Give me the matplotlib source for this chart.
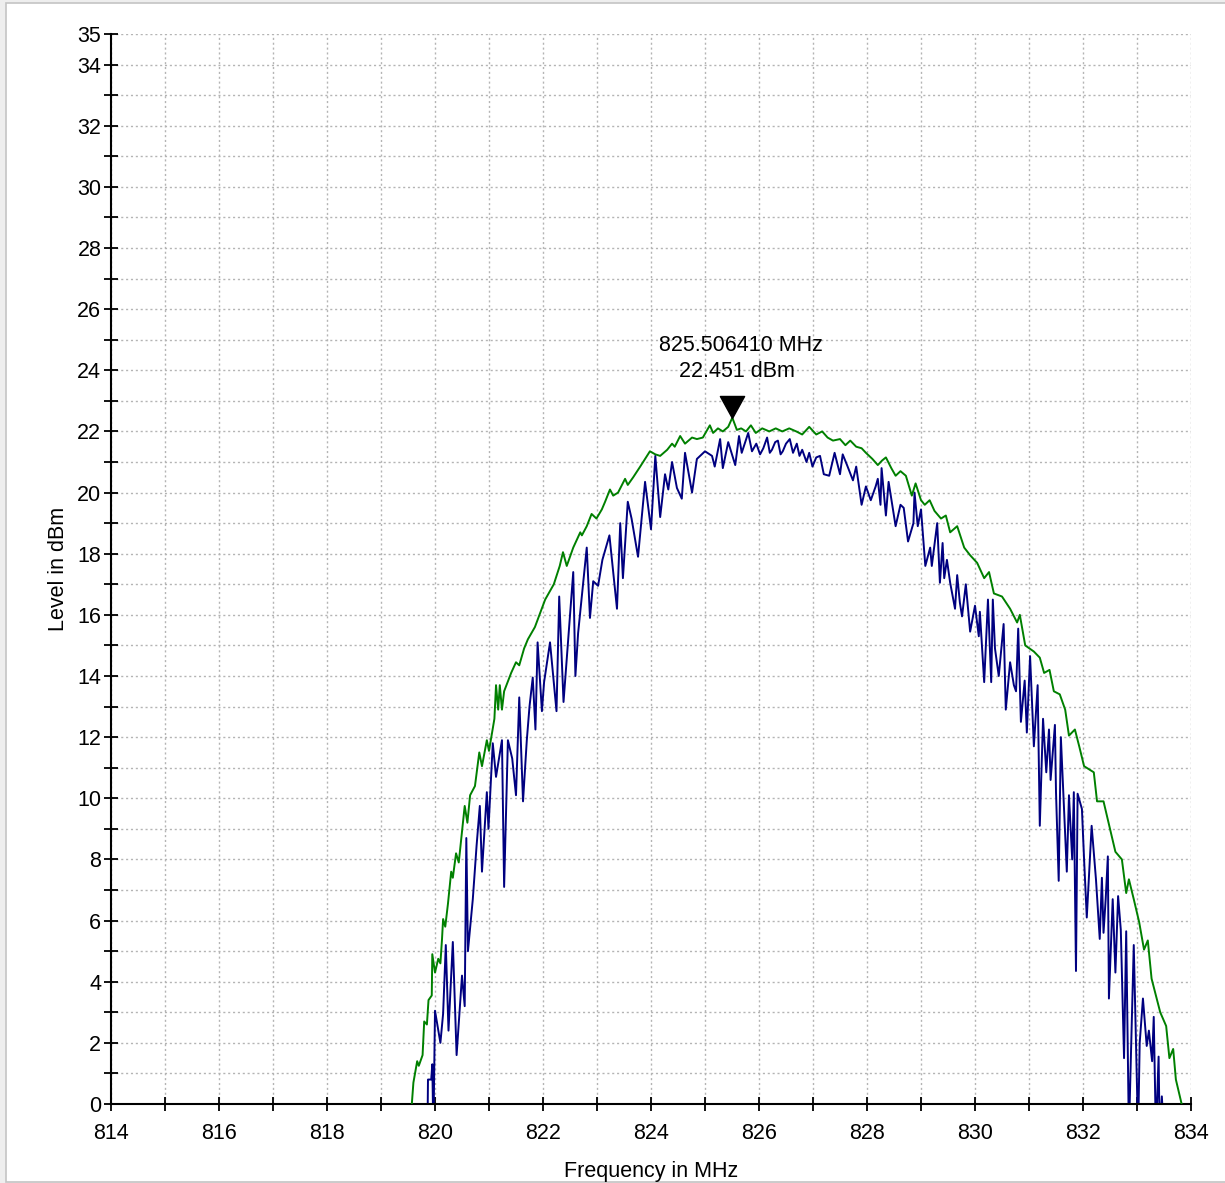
import numpy as np
import matplotlib
matplotlib.use("Agg")
import matplotlib.pyplot as plt
from matplotlib.patches import Rectangle

plt.rcParams['font.family'] = ['Liberation Sans', 'DejaVu Sans']

# Max-hold trace (green)
green_freq = [
    819.55, 819.60, 819.67, 819.70, 819.77, 819.80, 819.85, 819.88, 819.94, 819.95,
    820.00, 820.06, 820.10, 820.13, 820.15, 820.19, 820.24, 820.30, 820.33, 820.39,
    820.44, 820.55, 820.60, 820.65, 820.74, 820.82, 820.87, 820.96, 821.00, 821.10,
    821.13, 821.17, 821.20, 821.24, 821.28, 821.41, 821.50, 821.56, 821.65, 821.72,
    821.85, 822.04, 822.20, 822.31, 822.37, 822.44, 822.56, 822.69, 822.72, 822.81,
    822.90, 822.99, 823.09, 823.15, 823.24, 823.30, 823.39, 823.52, 823.57, 823.67,
    823.80, 823.89, 823.98, 824.08, 824.17, 824.30, 824.39, 824.44, 824.54, 824.63,
    824.76, 824.85, 824.96, 825.09, 825.15, 825.24, 825.33, 825.43, 825.506, 825.59,
    825.67, 825.76, 825.85, 825.94, 826.06, 826.19, 826.31, 826.43, 826.56, 826.69,
    826.80, 826.93, 827.06, 827.17, 827.27, 827.37, 827.50, 827.60, 827.69, 827.80,
    827.90, 827.98, 828.10, 828.20, 828.28, 828.35, 828.45, 828.53, 828.62, 828.72,
    828.83, 828.90, 829.00, 829.07, 829.16, 829.25, 829.37, 829.46, 829.54,
    829.67, 829.80, 829.91, 830.04, 830.17, 830.26, 830.35, 830.50, 830.65, 830.78,
    830.83, 830.93, 831.09, 831.20, 831.28, 831.38, 831.46, 831.57, 831.67, 831.74,
    831.85, 831.93, 832.02, 832.20, 832.26, 832.38, 832.50, 832.60, 832.72, 832.80,
    832.85, 832.94, 833.04, 833.13, 833.20, 833.27, 833.43, 833.54, 833.60, 833.67,
    833.72, 833.82, 833.90,
]
green_level = [
    -0.5, 0.7, 1.4, 1.25, 1.6, 2.7, 2.6, 3.4, 3.55, 4.9,
    4.3, 4.75, 4.6, 5.4, 6.05, 5.8, 6.55, 7.6, 7.4, 8.2,
    7.9, 9.75, 9.2, 10.1, 10.4, 11.5, 11.05, 11.9, 11.55, 12.6,
    13.7, 12.9, 13.7, 12.9, 13.5, 14.1, 14.45, 14.35, 14.9, 15.2,
    15.6, 16.5, 17.0, 17.6, 18.05, 17.6, 18.2, 18.7, 18.6, 18.9,
    19.3, 19.15, 19.45, 19.7, 20.1, 19.9, 20.0, 20.45, 20.25, 20.5,
    20.85, 21.1, 21.35, 21.25, 21.2, 21.4, 21.6, 21.5, 21.85, 21.6,
    21.8, 21.75, 21.8, 22.2, 21.95, 22.1, 22.0, 22.15, 22.451, 22.05,
    22.1, 22.0, 22.2, 21.95, 22.1, 22.0, 22.1, 22.0, 22.1, 22.0,
    21.9, 22.15, 21.9, 22.0, 21.8, 21.7, 21.75, 21.55, 21.7, 21.5,
    21.45, 21.3, 21.1, 20.9, 21.05, 21.15, 20.8, 20.55, 20.7, 20.55,
    19.9, 20.3, 19.75, 19.6, 19.75, 19.4, 19.15, 19.25, 18.7,
    18.9, 18.2, 17.95, 17.7, 17.2, 17.4, 16.7, 16.6, 16.2, 15.75,
    16.0, 15.0, 14.8, 14.6, 14.1, 14.2, 13.5, 13.4, 12.9, 12.05,
    12.25, 11.7, 11.05, 10.85, 9.9, 9.9, 9.0, 8.25, 8.0, 6.9,
    7.35, 6.7, 5.95, 5.05, 5.35, 4.1, 3.0, 2.55, 1.5, 1.8,
    0.8, 0.05, -0.5,
]

# Clear/write trace (blue)
blue_freq = [
    819.86, 819.87, 819.93, 819.95, 819.97, 820.00, 820.10, 820.15, 820.20, 820.25,
    820.33, 820.40, 820.50, 820.55, 820.58, 820.61, 820.70, 820.77, 820.83, 820.87,
    820.96, 820.99, 821.07, 821.13, 821.24, 821.28, 821.35, 821.43, 821.50, 821.56,
    821.63, 821.70, 821.75, 821.81, 821.86, 821.90, 821.98, 822.02, 822.13, 822.25,
    822.30, 822.38, 822.56, 822.60, 822.65, 822.81, 822.87, 822.93, 823.02, 823.10,
    823.23, 823.37, 823.43, 823.48, 823.57, 823.64, 823.76, 823.89, 824.00, 824.08,
    824.17, 824.26, 824.32, 824.39, 824.48, 824.57, 824.63, 824.76, 824.85, 824.94,
    825.00, 825.13, 825.18, 825.28, 825.33, 825.43, 825.56, 825.63, 825.68, 825.80,
    825.87, 825.95, 826.02, 826.08, 826.15, 826.20, 826.24, 826.30, 826.35, 826.40,
    826.44, 826.50, 826.57, 826.63, 826.70, 826.75, 826.80, 826.88, 826.93, 826.99,
    827.06, 827.13, 827.20, 827.30, 827.40, 827.50, 827.55, 827.63, 827.74, 827.80,
    827.90, 827.98,
    828.07, 828.16, 828.20, 828.25, 828.27, 828.35, 828.40, 828.53, 828.62, 828.68,
    828.76, 828.86, 828.88, 828.94, 829.00, 829.08, 829.17, 829.20, 829.30, 829.35,
    829.40, 829.43, 829.48, 829.54, 829.63, 829.67, 829.72, 829.76, 829.83, 829.91,
    830.00, 830.07, 830.09, 830.17, 830.24, 830.30, 830.33, 830.37, 830.44, 830.53,
    830.57, 830.65, 830.72, 830.76, 830.80, 830.85, 830.92, 830.96, 831.02, 831.09,
    831.16, 831.20, 831.26, 831.32, 831.37, 831.40, 831.48, 831.50, 831.55, 831.59,
    831.70, 831.74, 831.80, 831.83, 831.87, 831.90, 831.98, 832.02, 832.07, 832.16,
    832.24, 832.31, 832.35, 832.38, 832.42, 832.46, 832.48, 832.55, 832.60, 832.65,
    832.70, 832.76, 832.80, 832.85, 832.94, 833.02, 833.05, 833.11, 833.18, 833.22,
    833.28, 833.31, 833.35, 833.40, 833.42, 833.46, 833.50,
]
blue_level = [
    -1.0, 0.8, 0.8, 1.3, -1.0, 3.05, 2.0, 2.95, 5.2, 2.4,
    5.3, 1.6, 4.2, 3.2, 8.7, 5.0, 6.7, 8.45, 9.75, 7.6,
    10.2, 9.0, 11.8, 10.7, 11.9, 7.1, 11.9, 11.3, 10.1, 13.3,
    9.9, 11.9, 13.0, 13.95, 12.25, 15.1, 12.85, 13.8, 15.1, 12.85,
    16.6, 13.15, 17.4, 14.0, 15.4, 18.2, 15.9, 17.1, 16.95, 17.8,
    18.6, 16.2, 19.0, 17.2, 19.7, 19.15, 17.9, 20.35, 18.8, 21.2,
    19.2, 20.6, 20.1, 21.0, 20.15, 19.8, 21.3, 20.0, 21.1, 21.25,
    21.35, 21.2, 20.85, 21.75, 20.8, 21.65, 20.9, 21.85, 21.3, 21.95,
    21.35, 21.6, 21.25, 21.45, 21.8, 21.3, 21.4, 21.65, 21.7, 21.25,
    21.35, 21.6, 21.75, 21.3, 21.6, 21.2, 21.4, 21.0, 21.3, 20.85,
    21.15, 21.2, 20.6, 20.55, 21.3, 20.6, 21.25, 20.9, 20.4, 20.85,
    19.6, 20.2,
    19.75, 20.2, 20.45, 19.6, 20.8, 19.25, 20.35, 18.9, 19.6, 19.5,
    18.4, 19.0, 20.0, 18.9, 19.45, 17.6, 18.2, 17.6, 19.0, 17.05,
    18.35, 17.2, 17.8, 17.05, 16.2, 17.3, 16.4, 15.95, 17.0, 15.45,
    16.3, 15.3, 16.1, 13.8, 16.5, 13.8, 16.5, 14.9, 14.0, 15.7,
    12.9, 14.45, 13.7, 13.5, 15.55, 12.5, 13.85, 12.15, 14.65, 11.7,
    13.7, 9.1, 12.6, 10.85, 12.25, 10.6, 12.4, 10.2, 7.3, 12.0,
    7.6, 10.1, 8.0, 10.2, 4.35, 10.15, 9.65, 8.0, 6.1, 9.1,
    7.35, 5.4, 7.4, 5.6, 6.7, 8.1, 3.45, 6.7, 4.3, 6.8,
    5.7, 1.5, 5.65, -1.0, 5.2, -1.0, 2.0, 3.45, 1.9, 2.4,
    1.4, 2.85, -1.0, 1.55, -1.0, 0.25, -1.0,
]

marker_freq = 825.506410
marker_level = 22.451

fig = plt.figure(figsize=(12.25, 11.83), dpi=100, facecolor='#eeeeee')
fig.patches.append(Rectangle((6 / 1225, 1 / 1183), 1230 / 1225, 1179 / 1183,
                             transform=fig.transFigure, facecolor='white',
                             edgecolor='#c4c4c4', linewidth=1.2, zorder=-1))
ax = fig.add_axes([111 / 1225, 79 / 1183, 1080 / 1225, 1070 / 1183])
ax.set_facecolor('none')

ax.plot(green_freq, green_level, color='#008000', lw=1.4, zorder=3)
ax.plot(blue_freq, blue_level, color='#000080', lw=1.4, zorder=2)

# marker triangle with its tip on the peak
tri = [(0, 0), (-0.55, 1), (0.55, 1), (0, 0)]
ax.plot([marker_freq], [marker_level], marker=tri, ms=31.7, color='black',
        zorder=5, clip_on=False)
ax.annotate(f'{marker_freq:.6f} MHz', (marker_freq, marker_level),
            xytext=(9, 72), textcoords='offset pixels', ha='center', va='center',
            fontsize=15.5)
ax.annotate(f'{marker_level:.3f} dBm', (marker_freq, marker_level),
            xytext=(5, 46), textcoords='offset pixels', ha='center', va='center',
            fontsize=15.5)

ax.set_xlim(814, 834)
ax.set_ylim(0, 35)
ax.set_xticks(np.arange(814, 835, 2))
ax.set_xticks(np.arange(815, 834, 2), minor=True)
ax.set_yticks(list(range(0, 35, 2)) + [35])
ax.set_yticks(np.arange(1, 34, 2), minor=True)
ax.tick_params(which='both', direction='inout', length=10, width=1.3,
               labelsize=15.5)
ax.tick_params(axis='x', pad=9)
ax.tick_params(axis='y', pad=2)
ax.grid(True, which='both', linestyle=(0, (1.5, 2)), color='#b4b4b4', lw=1.0)

for s in ['top', 'right']:
    ax.spines[s].set_visible(False)
for s in ['left', 'bottom']:
    ax.spines[s].set_linewidth(1.5)

ax.set_xlabel('Frequency in MHz', fontsize=15.5, labelpad=12)
ax.set_ylabel('Level in dBm', fontsize=15.5, labelpad=6)

fig.savefig('out.png', dpi=100)
